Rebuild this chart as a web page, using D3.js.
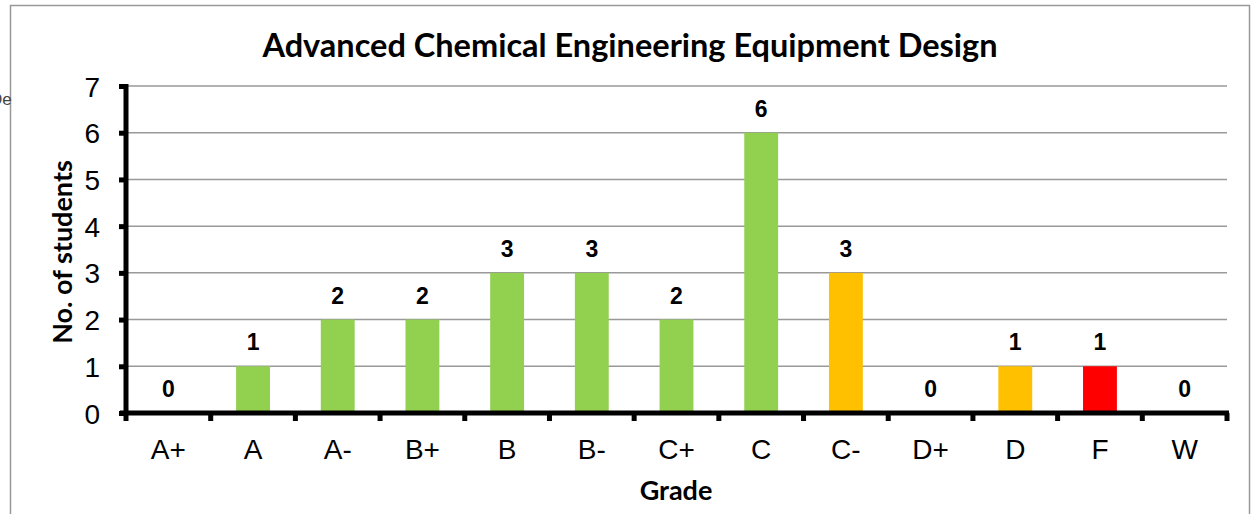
<!DOCTYPE html>
<html><head><meta charset="utf-8">
<script src="https://cdn.jsdelivr.net/npm/d3@7"></script>
<style>body{margin:0;background:#fff}svg{display:block}</style>
</head><body>
<svg id="c" width="1255" height="514"></svg>
<script>
const categories = ["A+","A","A-","B+","B","B-","C+","C","C-","D+","D","F","W"];
const values = [0,1,2,2,3,3,2,6,3,0,1,1,0];
const colors = ["#92D050","#92D050","#92D050","#92D050","#92D050","#92D050","#92D050","#92D050","#FFC000","#FFC000","#FFC000","#FF0000","#FF0000"];
const yTicks = [0,1,2,3,4,5,6,7];
const title = "Advanced Chemical Engineering Equipment Design";
const yTitle = "No. of students";
const xTitle = "Grade";

const svg = d3.select("#c");
const m = {left:126, right:1227, top:86, bottom:413};
const x = d3.scaleBand().domain(categories).range([m.left, m.right]).paddingInner(0.6).paddingOuter(0.3);
const xb = d3.scaleBand().domain(categories).range([m.left, m.right]);
const y = d3.scaleLinear().domain([0,7]).range([m.bottom, m.top]);

// border
svg.append("rect").attr("x",10.5).attr("y",5.5).attr("width",1239).attr("height",520)
  .attr("fill","none").attr("stroke","#999").attr("stroke-width",1.5);

// clipped stray text (as in the reference)
svg.append("text").attr("x",-10).attr("y",105).attr("font-family","Liberation Sans, Arial").attr("font-size",17).attr("fill","#444").text("De");

// gridlines
svg.append("g").selectAll("line").data(yTicks.filter(d=>d>0)).join("line")
  .attr("x1",m.left).attr("x2",m.right).attr("y1",d=>y(d)).attr("y2",d=>y(d))
  .attr("stroke","#999").attr("stroke-width",1.5);

// bars
svg.append("g").selectAll("rect").data(values).join("rect")
  .attr("x",(d,i)=>x(categories[i])).attr("width",x.bandwidth())
  .attr("y",d=>y(d)).attr("height",d=>y(0)-y(d))
  .attr("fill",(d,i)=>colors[i]);

// value labels
svg.append("g").selectAll("text").data(values).join("text")
  .attr("x",(d,i)=>x(categories[i])+x.bandwidth()/2).attr("y",d=>y(d)-16)
  .attr("text-anchor","middle").attr("font-family","Liberation Sans, Arial").attr("font-weight","bold")
  .attr("font-size",23).attr("fill","#000").text(d=>d);

// y axis
const ya = d3.axisLeft(y).tickValues(yTicks).tickSize(7).tickPadding(19).tickFormat(d3.format("d"));
const gy = svg.append("g").attr("transform",`translate(${m.left},0)`).call(ya);
gy.select(".domain").attr("stroke","#000").attr("stroke-width",5).attr("d",`M0,${m.top-2}V${m.bottom}`);
gy.selectAll(".tick line").attr("stroke","#000").attr("stroke-width",5);
gy.selectAll(".tick text").attr("font-family","Liberation Sans, Arial").attr("font-size",28).attr("fill","#000").attr("dy","0.36em");

// x axis
const xTickPos = categories.map(c=>xb(c)).concat([m.right]);
const gx = svg.append("g").attr("transform",`translate(0,${m.bottom})`);
gx.append("line").attr("x1",m.left-6).attr("x2",m.right+2).attr("y1",0).attr("y2",0).attr("stroke","#000").attr("stroke-width",5);
gx.selectAll("line.t").data(xTickPos).join("line").attr("class","t")
  .attr("x1",d=>d).attr("x2",d=>d).attr("y1",0).attr("y2",8).attr("stroke","#000").attr("stroke-width",5);
gx.selectAll("text").data(categories).join("text")
  .attr("x",d=>xb(d)+xb.bandwidth()/2).attr("y",46)
  .attr("text-anchor","middle").attr("font-family","Liberation Sans, Arial").attr("font-size",28).attr("fill","#000").text(d=>d);

// titles
svg.append("text").attr("x",630).attr("y",57).attr("text-anchor","middle")
  .attr("font-family","Lato, Open Sans, sans-serif").attr("font-weight","bold").attr("font-size",32.5).text(title);
svg.append("text").attr("transform","translate(72,252) rotate(-90)").attr("text-anchor","middle")
  .attr("font-family","Lato, Open Sans, sans-serif").attr("font-weight","bold").attr("font-size",27).text(yTitle);
svg.append("text").attr("x",676).attr("y",500).attr("text-anchor","middle")
  .attr("font-family","Lato, Open Sans, sans-serif").attr("font-weight","bold").attr("font-size",27).text(xTitle);
</script>
</body></html>
